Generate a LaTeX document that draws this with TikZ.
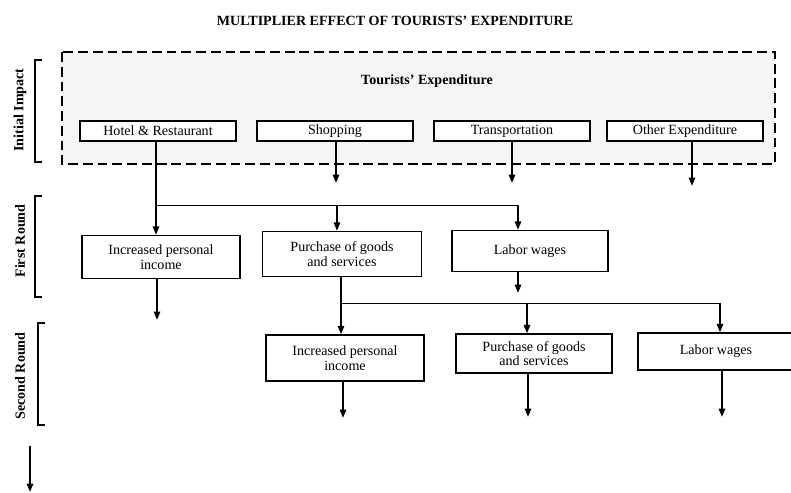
\documentclass[tikz,border=0pt]{standalone}
\usepackage{fontspec}
\setmainfont{Liberation Serif}
\usepackage{tikz}
\usetikzlibrary{arrows.meta, positioning}

\begin{document}
\begin{tikzpicture}[x=0.025cm, y=-0.025cm,
    box/.style={draw, line width=0.9pt, fill=white, align=center, inner sep=0pt,
      font=\fontsize{10}{10.5}\selectfont},
    topbox/.style={box, minimum width=3.9cm, minimum height=0.5cm},
    arr/.style={line width=1.4pt, -{Triangle[length=6pt,width=4.5pt]}},
    branch/.style={line width=0.6pt},
    brk/.style={line width=1.6pt},
    side/.style={rotate=90, font=\bfseries\fontsize{10}{10}\selectfont}]
  \useasboundingbox (0,0) rectangle (791,493);

  \node[font=\bfseries\fontsize{10}{10}\selectfont] (title) at (395,21)
    {MULTIPLIER EFFECT OF TOURISTS' EXPENDITURE};

  % initial impact
  \draw[line width=1.1pt, dash pattern=on 7pt off 3.5pt, fill=black!4]
    (62,52) rectangle (775,164);
  \node[font=\bfseries\fontsize{10}{10}\selectfont] (tour) at (427,81) {Tourists' Expenditure};
  \node[topbox] (hot) at (158,131) {Hotel \& Restaurant};
  \node[topbox] (shop) at (335,131) {Shopping};
  \node[topbox] (trans) at (512,131) {Transportation};
  \node[topbox] (oth) at (685,131) {Other Expenditure};

  % first round
  \node[box, minimum width=3.95cm, minimum height=1.075cm] (inc1) at (161,257)
    {Increased personal\\income};
  \node[box, minimum width=3.975cm, minimum height=1.125cm] (pur1) at (342,254)
    {Purchase of goods\\and services};
  \node[box, minimum width=3.9cm, minimum height=1.025cm] (lab1) at (530,251)
    {Labor wages};

  % second round
  \node[box, minimum width=3.95cm, minimum height=1.15cm] (inc2) at (345,358)
    {Increased personal\\income};
  \node[box, minimum width=3.9cm, minimum height=0.975cm] (pur2) at (534,353.5)
    {Purchase of goods\\and services};
  \node[box, minimum width=3.9cm, minimum height=0.925cm] (lab2) at (716,351.5)
    {Labor wages};

  \coordinate (j1) at (156,205);
  \coordinate (j2) at (337,205);
  \coordinate (j3) at (518,205);
  \coordinate (k1) at (341,303);
  \coordinate (k2) at (527,303);
  \coordinate (k3) at (720,303);
  \coordinate (sshop) at (336,183);
  \coordinate (strans) at (512,183);
  \coordinate (soth) at (692,186);
  \coordinate (sinc1) at (157,320);
  \coordinate (slab1) at (518,293);
  \coordinate (sinc2) at (343,418);
  \coordinate (spur2) at (528,417);
  \coordinate (slab2) at (722,417);

  \draw[arr] (shop.south -| sshop) -- (sshop);
  \draw[arr] (trans.south -| strans) -- (strans);
  \draw[arr] (oth.south -| soth) -- (soth);
  \draw[arr] (hot.south -| j1) -- (j1 |- inc1.north);
  \draw[branch] (j1) -- (j3);
  \draw[arr] (j2) -- (j2 |- pur1.north);
  \draw[arr] (j3) -- (j3 |- lab1.north);

  \draw[arr] (inc1.south -| sinc1) -- (sinc1);
  \draw[arr] (lab1.south -| slab1) -- (slab1);
  \draw[arr] (pur1.south -| k1) -- (k1 |- inc2.north);
  \draw[branch] (k1) -- (k3);
  \draw[arr] (k2) -- (k2 |- pur2.north);
  \draw[arr] (k3) -- (k3 |- lab2.north);

  \draw[arr] (inc2.south -| sinc2) -- (sinc2);
  \draw[arr] (pur2.south -| spur2) -- (spur2);
  \draw[arr] (lab2.south -| slab2) -- (slab2);

  % round labels
  \node[side] (lini) at (20,110) {Initial Impact};
  \draw[brk] (42,60) -| (35,162) -- (42,162);
  \node[side] (lfir) at (20,241) {First Round};
  \draw[brk] (42,196) -| (35,297) -- (42,297);
  \node[side] (lsec) at (20,376) {Second Round};
  \draw[brk] (45,323) -| (38,425) -- (45,425);

  \coordinate (down0) at (30,446);
  \coordinate (down1) at (30,492);
  \draw[arr] (down0) -- (down1);
\end{tikzpicture}
\end{document}
